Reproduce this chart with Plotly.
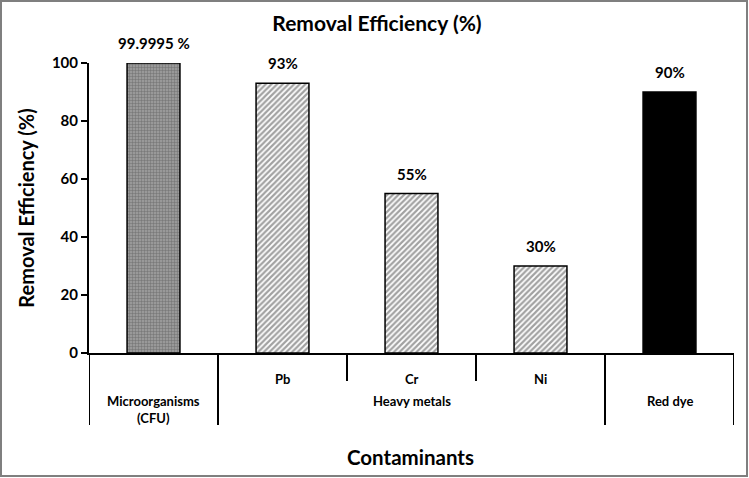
import plotly.graph_objects as go

categories = ["Microorganisms (CFU)", "Pb", "Cr", "Ni", "Red dye"]
groups = ["Microorganisms<br>(CFU)", "Heavy metals", "Heavy metals", "Heavy metals", "Red dye"]
subcats = ["", "Pb", "Cr", "Ni", ""]
values = [99.9995, 93, 55, 30, 90]
labels = ["99.9995 %", "93%", "55%", "30%", "90%"]
yticks = [0, 20, 40, 60, 80, 100]

FONT = "Lato, Open Sans, sans-serif"
W, H = 749, 478
L, R, T, B = 89, 15, 63, 125
PH = H - T - B
PW = W - L - R
Y0 = H - B  # pixel row of the x axis


def py(pix):
    """pixel row below the axis -> paper y"""
    return -(pix - Y0) / PH


fig = go.Figure()
fig.add_trace(go.Bar(
    x=categories,
    y=values,
    width=0.41,
    marker=dict(
        color=["#999999", "white", "white", "white", "black"],
        line=dict(color="black", width=1.5),
        pattern=dict(
            shape=["+", "/", "/", "/", ""],
            fgcolor=["#606060", "black", "black", "black", "black"],
            bgcolor=["#a8a8a8", "white", "white", "white", "black"],
            size=[3, 4, 4, 4, 4],
            solidity=[0.3, 0.55, 0.55, 0.55, 0.3],
            fillmode="overlay",
        ),
    ),
    showlegend=False,
    hoverinfo="skip",
))

# value labels above bars
for c, v, t in zip(categories, values, labels):
    fig.add_annotation(x=c, y=v, text=f"<b>{t}</b>", showarrow=False,
                       yshift=20, font=dict(family=FONT, size=15, color="black"))

# two-level category axis: inner labels, group labels, separators
n = len(categories)
for i, s in enumerate(subcats):
    if s:
        fig.add_annotation(x=i, xref="x", y=py(379), yref="paper", text=f"<b>{s}</b>",
                           showarrow=False, yanchor="middle",
                           font=dict(family=FONT, size=13, color="black"))
for b in range(n + 1):
    edge = b == 0 or b == n or groups[b - 1] != groups[b]
    fig.add_shape(type="line", xref="x", yref="paper", x0=b - 0.5, x1=b - 0.5,
                  y0=0, y1=py(425 if edge else 381), line=dict(color="black", width=2))
start = 0
for i in range(1, n + 1):
    if i == n or groups[i] != groups[start]:
        fig.add_annotation(x=(start + i - 1) / 2, xref="x", y=py(391), yref="paper",
                           text="<b>" + groups[start].replace("<br>", "</b><br><b>") + "</b>",
                           showarrow=False, yanchor="top",
                           font=dict(family=FONT, size=13, color="black"))
        start = i

fig.add_annotation(xref="paper", yref="paper", x=(410 - L) / PW, y=py(457),
                   text="<b>Contaminants</b>", showarrow=False, xanchor="center", yanchor="middle",
                   font=dict(family=FONT, size=20.5, color="black"))

fig.update_layout(
    width=W, height=H,
    margin=dict(l=L, r=R, t=T, b=B),
    paper_bgcolor="white", plot_bgcolor="white",
    title=dict(text="<b>Removal Efficiency (%)</b>", x=377 / W, xanchor="center",
               y=1 - 24 / H, yanchor="middle", font=dict(family=FONT, size=21, color="black")),
    font=dict(family=FONT, color="black"),
)
fig.update_yaxes(range=[0, 100], tickvals=yticks, ticktext=[f"<b>{v}</b>" for v in yticks],
                 showgrid=False, zeroline=False, showline=True, linecolor="black", linewidth=2,
                 ticks="outside", ticklen=6, tickwidth=2, tickcolor="black",
                 tickfont=dict(family=FONT, size=15, color="black"),
                 title=dict(text="<b>Removal Efficiency (%)</b>", standoff=12,
                            font=dict(family=FONT, size=20, color="black")))
fig.update_xaxes(type="category", range=[-0.5, n - 0.5], showgrid=False, showline=True,
                 linecolor="black", linewidth=2, ticks="", showticklabels=False)

# outer frame
fig.add_shape(type="rect", xref="paper", yref="paper",
              x0=(1 - L) / PW, x1=(W - 2 - L) / PW,
              y0=-(B - 2) / PH, y1=1 + (T - 1) / PH,
              line=dict(color="#7f7f7f", width=2))

fig.write_html("out.html", config={"displayModeBar": False},
               post_script="document.body.style.margin='0';")
